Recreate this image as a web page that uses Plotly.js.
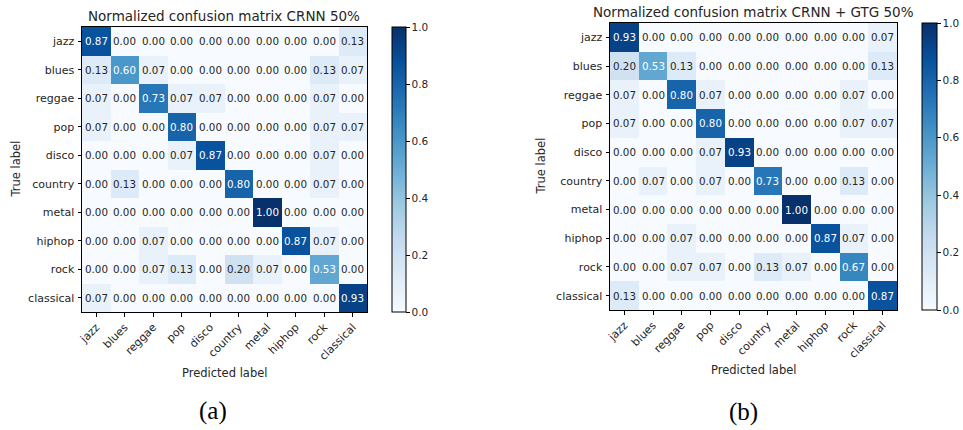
<!DOCTYPE html>
<html>
<head>
<meta charset="utf-8">
<script src="https://cdn.plot.ly/plotly-3.0.1.min.js"></script>
<style>
  html, body { margin: 0; padding: 0; background: #ffffff; }
  #chart { width: 963px; height: 430px; }
</style>
</head>
<body>
<div id="chart"></div>
<script>
// Genre labels (rows = true label, columns = predicted label)
const genres = ["jazz", "blues", "reggae", "pop", "disco", "country", "metal", "hiphop", "rock", "classical"];

// Normalized confusion matrix, CRNN 50%
const crnn = [
  [0.87, 0.00, 0.00, 0.00, 0.00, 0.00, 0.00, 0.00, 0.00, 0.13],
  [0.13, 0.60, 0.07, 0.00, 0.00, 0.00, 0.00, 0.00, 0.13, 0.07],
  [0.07, 0.00, 0.73, 0.07, 0.07, 0.00, 0.00, 0.00, 0.07, 0.00],
  [0.07, 0.00, 0.00, 0.80, 0.00, 0.00, 0.00, 0.00, 0.07, 0.07],
  [0.00, 0.00, 0.00, 0.07, 0.87, 0.00, 0.00, 0.00, 0.07, 0.00],
  [0.00, 0.13, 0.00, 0.00, 0.00, 0.80, 0.00, 0.00, 0.07, 0.00],
  [0.00, 0.00, 0.00, 0.00, 0.00, 0.00, 1.00, 0.00, 0.00, 0.00],
  [0.00, 0.00, 0.07, 0.00, 0.00, 0.00, 0.00, 0.87, 0.07, 0.00],
  [0.00, 0.00, 0.07, 0.13, 0.00, 0.20, 0.07, 0.00, 0.53, 0.00],
  [0.07, 0.00, 0.00, 0.00, 0.00, 0.00, 0.00, 0.00, 0.00, 0.93]
];

// Normalized confusion matrix, CRNN + GTG 50%
const crnnGtg = [
  [0.93, 0.00, 0.00, 0.00, 0.00, 0.00, 0.00, 0.00, 0.00, 0.07],
  [0.20, 0.53, 0.13, 0.00, 0.00, 0.00, 0.00, 0.00, 0.00, 0.13],
  [0.07, 0.00, 0.80, 0.07, 0.00, 0.00, 0.00, 0.00, 0.07, 0.00],
  [0.07, 0.00, 0.00, 0.80, 0.00, 0.00, 0.00, 0.00, 0.07, 0.07],
  [0.00, 0.00, 0.00, 0.07, 0.93, 0.00, 0.00, 0.00, 0.00, 0.00],
  [0.00, 0.07, 0.00, 0.07, 0.00, 0.73, 0.00, 0.00, 0.13, 0.00],
  [0.00, 0.00, 0.00, 0.00, 0.00, 0.00, 1.00, 0.00, 0.00, 0.00],
  [0.00, 0.00, 0.07, 0.00, 0.00, 0.00, 0.00, 0.87, 0.07, 0.00],
  [0.00, 0.00, 0.07, 0.07, 0.00, 0.13, 0.07, 0.00, 0.67, 0.00],
  [0.13, 0.00, 0.00, 0.00, 0.00, 0.00, 0.00, 0.00, 0.00, 0.87]
];

const titles = ["Normalized confusion matrix CRNN 50%", "Normalized confusion matrix CRNN + GTG 50%"];
const captions = ["(a)", "(b)"];
const colorbarTicks = [0.0, 0.2, 0.4, 0.6, 0.8, 1.0];

// Sequential blue ramp (light to dark)
const blues = [
  [0.000, "#f7fbff"], [0.125, "#deebf7"], [0.250, "#c6dbef"],
  [0.375, "#9ecae1"], [0.500, "#6baed6"], [0.625, "#4292c6"],
  [0.750, "#2171b5"], [0.875, "#08519c"], [1.000, "#08306b"]
];

const W = 963, H = 430;
const px = v => v / W;
const py = v => 1 - v / H;
const FONT = "DejaVu Sans, sans-serif";

// Panel geometry in pixels: plot box and colorbar
const panels = [
  { data: crnn,    left: 82,  right: 367, top: 27, bottom: 312, cbX: 392, cbW: 14, titleX: 224, titleY: 16, ylabX: 15,  xlabY: 373, capX: 213, capY: 411 },
  { data: crnnGtg, left: 610, right: 897, top: 23, bottom: 310, cbX: 922, cbW: 15, titleX: 753, titleY: 12, ylabX: 540, xlabY: 370, capX: 743, capY: 412 }
];

const traces = [];
const annotations = [];
const layout = {
  width: W, height: H,
  margin: { l: 0, r: 0, t: 0, b: 0 },
  paper_bgcolor: "#ffffff",
  plot_bgcolor: "#ffffff",
  showlegend: false,
  font: { family: FONT, size: 10, color: "#262626" },
  annotations: annotations
};

panels.forEach((p, k) => {
  const xa = k === 0 ? "x" : "x2";
  const ya = k === 0 ? "y" : "y2";
  const xKey = k === 0 ? "xaxis" : "xaxis2";
  const yKey = k === 0 ? "yaxis" : "yaxis2";

  traces.push({
    type: "heatmap",
    z: p.data,
    x: genres,
    y: genres,
    xaxis: xa, yaxis: ya,
    zmin: 0, zmax: 1,
    colorscale: blues,
    hoverinfo: "skip",
    colorbar: {
      x: px(p.cbX), xanchor: "left", xref: "paper",
      y: py(p.top), yanchor: "top",
      len: p.bottom - p.top, lenmode: "pixels",
      thickness: p.cbW, thicknessmode: "pixels",
      outlinewidth: 1, outlinecolor: "#000000",
      ticks: "outside", ticklen: 3.5, tickwidth: 1, tickcolor: "#000000",
      tickvals: colorbarTicks, tickformat: ".1f",
      tickfont: { family: FONT, size: 10.5, color: "#262626" },
      xpad: 0, ypad: 0
    }
  });

  const axisCommon = {
    type: "category",
    showline: true, mirror: true, linecolor: "#000000", linewidth: 1,
    ticks: "outside", ticklen: 3.5, tickwidth: 1, tickcolor: "#000000",
    showgrid: false, zeroline: false, fixedrange: true,
    tickfont: { family: FONT, size: 11, color: "#262626" }
  };
  layout[xKey] = Object.assign({}, axisCommon, {
    domain: [px(p.left), px(p.right)],
    anchor: ya, tickangle: -45, categoryarray: genres, categoryorder: "array"
  });
  layout[yKey] = Object.assign({}, axisCommon, {
    domain: [py(p.bottom), py(p.top)],
    anchor: xa, autorange: "reversed", ticklabelstandoff: 1
  });

  // Cell value labels: light text on dark cells
  const thresh = 0.5;
  p.data.forEach((row, i) => {
    row.forEach((v, j) => {
      annotations.push({
        x: genres[j], y: genres[i], xref: xa, yref: ya,
        text: v.toFixed(2), showarrow: false,
        font: { family: FONT, size: 10.3, color: v > thresh ? "#ffffff" : "#262626" }
      });
    });
  });

  annotations.push({
    x: px(p.titleX), y: py(p.titleY), xref: "paper", yref: "paper",
    text: titles[k], showarrow: false, xanchor: "center", yanchor: "middle",
    font: { family: FONT, size: 13.5, color: "#262626" }
  });
  annotations.push({
    x: px(p.ylabX), y: py((p.top + p.bottom) / 2), xref: "paper", yref: "paper",
    text: "True label", showarrow: false, textangle: -90,
    xanchor: "center", yanchor: "middle",
    font: { family: FONT, size: 11.5, color: "#262626" }
  });
  annotations.push({
    x: px((p.left + p.right) / 2), y: py(p.xlabY), xref: "paper", yref: "paper",
    text: "Predicted label", showarrow: false, xanchor: "center", yanchor: "middle",
    font: { family: FONT, size: 11.5, color: "#262626" }
  });
  annotations.push({
    x: px(p.capX), y: py(p.capY), xref: "paper", yref: "paper",
    text: captions[k], showarrow: false, xanchor: "center", yanchor: "middle",
    font: { family: "Liberation Serif, DejaVu Serif, serif", size: 25, color: "#000000" }
  });
});

Plotly.newPlot("chart", traces, layout, { staticPlot: true, displayModeBar: false });
</script>
</body>
</html>
